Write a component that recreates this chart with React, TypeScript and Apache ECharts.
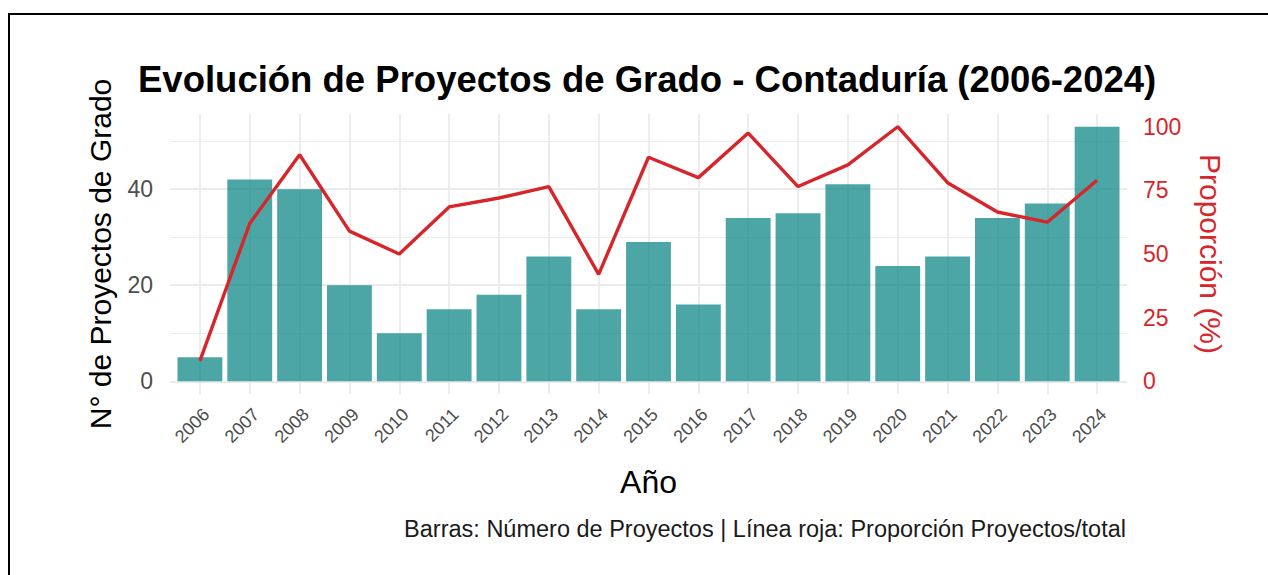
import React, { useEffect, useRef } from "react";
import * as echarts from "echarts";

const years = ["2006","2007","2008","2009","2010","2011","2012","2013","2014","2015","2016","2017","2018","2019","2020","2021","2022","2023","2024"];
const proyectos = [5, 42, 40, 20, 10, 15, 18, 26, 15, 29, 16, 34, 35, 41, 24, 26, 34, 37, 53];
const proporcion = [8, 62, 89, 59, 50, 68.5, 72, 76.5, 42, 88, 80, 97.5, 76.5, 85, 100, 78, 66.5, 62.5, 79];
const leftTicks = [0, 20, 40];
const leftMinorGrid = [10, 30, 50];
const rightTicks = [0, 25, 50, 75, 100];

const FONT = "'Liberation Sans', Arial, sans-serif";
const RED = "#d7262b";

export default function App() {
  const ref = useRef<HTMLDivElement>(null);
  useEffect(() => {
    document.body.style.margin = "0";
    document.body.style.overflow = "hidden";
    const chart = echarts.init(ref.current!, null, { renderer: "svg" });
    const idx = years.map((_, i) => i);
    const barData = proyectos.map((v, i) => [i, v]);
    const lineData = proporcion.map((v, i) => [i, v]);
    const gridMajor = { color: "#ebebeb", width: 1.8, type: "solid" as const };
    const gridMinor = { color: "#eeeeee", width: 1.1, type: "solid" as const };
    chart.setOption({
      animation: false,
      backgroundColor: "#ffffff",
      textStyle: { fontFamily: FONT },
      title: [
        {
          text: "Evolución de Proyectos de Grado - Contaduría (2006-2024)",
          left: 138,
          top: 61,
          padding: 0,
          textStyle: { fontSize: 36.5, fontWeight: "bold", color: "#000000", fontFamily: FONT },
        },
        {
          text: "Barras: Número de Proyectos | Línea roja: Proporción Proyectos/total",
          right: 142,
          top: 517,
          padding: 0,
          textStyle: { fontSize: 23.5, fontWeight: "normal", color: "#1a1a1a", fontFamily: FONT },
        },
      ],
      grid: { left: 170, right: 141, top: 114, bottom: 181, containLabel: false },
      xAxis: {
        type: "value",
        min: -0.6,
        max: 18.6,
        axisLine: { show: false, onZero: false },
        axisTick: { show: false },
        splitLine: { show: false },
        axisLabel: {
          customValues: idx,
          formatter: (v: number) => years[Math.round(v)] ?? "",
          rotate: 45,
          verticalAlign: "top",
          margin: 11,
          fontSize: 18,
          color: "#4d4d4d",
          fontFamily: FONT,
        },
        name: "Año",
        nameLocation: "middle",
        nameGap: 72,
        nameTextStyle: { fontSize: 32, color: "#000000", fontFamily: FONT },
      },
      yAxis: [
        {
          type: "value",
          min: -2.65,
          max: 55.65,
          axisLine: { show: false },
          axisTick: { show: false },
          splitLine: { show: false },
          axisLabel: { customValues: leftTicks, fontSize: 23, color: "#4d4d4d", margin: 17, fontFamily: FONT },
          name: "N° de Proyectos de Grado",
          nameLocation: "middle",
          nameRotate: 90,
          nameGap: 55,
          nameTextStyle: { fontSize: 30, color: "#000000", fontFamily: FONT },
        },
        {
          type: "value",
          position: "right",
          min: -5,
          max: 105,
          axisLine: { show: false },
          axisTick: { show: false },
          splitLine: { show: false },
          axisLabel: { customValues: rightTicks, fontSize: 23, color: RED, margin: 16, fontFamily: FONT },
          name: "Proporción (%)",
          nameLocation: "middle",
          nameRotate: -90,
          nameGap: 68,
          nameTextStyle: { fontSize: 30, color: RED, fontFamily: FONT },
        },
      ],
      series: [
        {
          type: "line",
          data: barData,
          z: 0,
          silent: true,
          showSymbol: false,
          symbol: "none",
          lineStyle: { opacity: 0 },
          markLine: {
            z: 0,
            silent: true,
            symbol: "none",
            label: { show: false },
            animation: false,
            data: [
              ...leftTicks.map((v) => ({ yAxis: v, lineStyle: gridMajor })),
              ...leftMinorGrid.map((v) => ({ yAxis: v, lineStyle: gridMinor })),
              ...idx.map((v) => ({ xAxis: v, lineStyle: gridMajor })),
            ],
          },
        },
        {
          type: "bar",
          data: barData,
          z: 2,
          barCategoryGap: "10%",
          itemStyle: { color: "rgba(0,128,128,0.7)" },
        },
        {
          type: "line",
          yAxisIndex: 1,
          data: lineData,
          z: 3,
          symbol: "none",
          showSymbol: false,
          lineStyle: { color: RED, width: 3.4 },
        },
      ],
    });
    return () => chart.dispose();
  }, []);
  return (
    <div style={{ position: "relative", width: 1268, height: 575, background: "#fff" }}>
      <div ref={ref} style={{ position: "absolute", left: 0, top: 0, width: 1268, height: 575 }} />
      <div
        style={{
          position: "absolute",
          left: 8,
          top: 13,
          width: 1260,
          height: 562,
          borderTop: "2px solid #000",
          borderLeft: "2px solid #000",
          boxSizing: "border-box",
          pointerEvents: "none",
        }}
      />
    </div>
  );
}
